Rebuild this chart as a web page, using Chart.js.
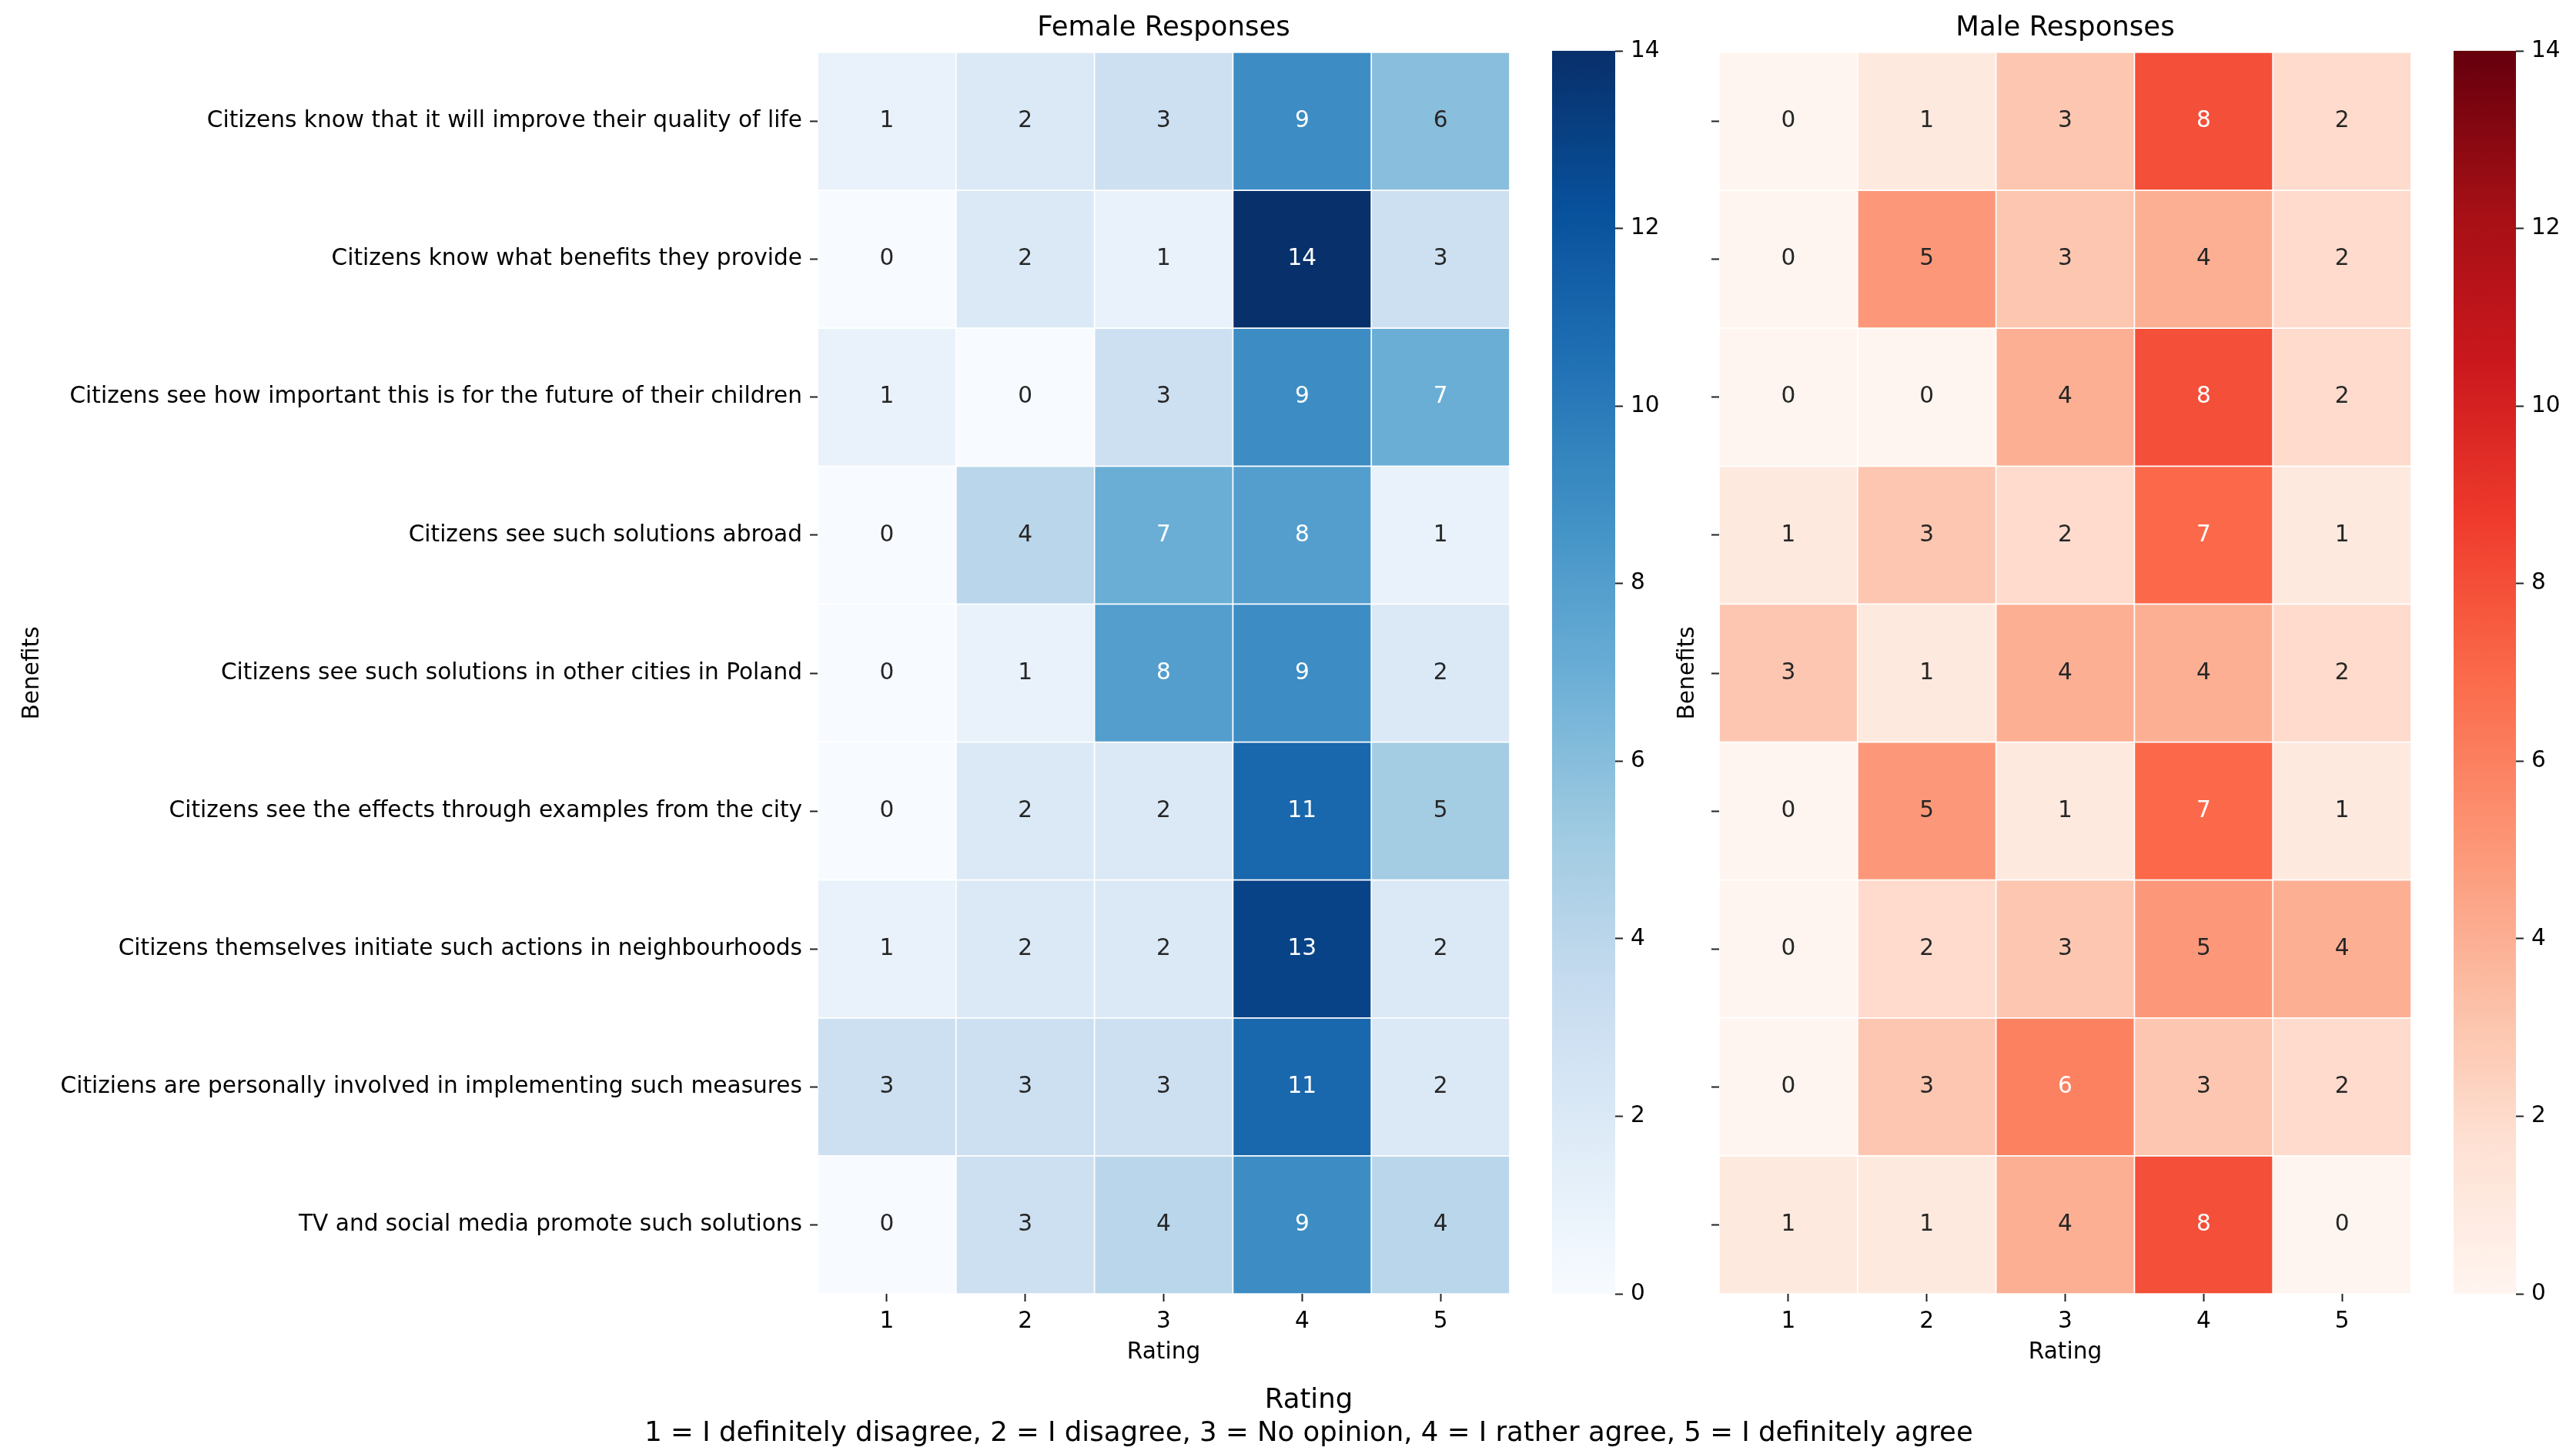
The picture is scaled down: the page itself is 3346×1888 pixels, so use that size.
<!DOCTYPE html>
<html>
<head>
<meta charset="utf-8">
<script src="https://cdn.jsdelivr.net/npm/chart.js@4.4.1/dist/chart.umd.min.js"></script>
<style>
html,body{margin:0;padding:0;background:#fff;width:3346px;height:1888px;overflow:hidden;}
canvas{position:absolute;top:0;}
.foot{position:absolute;left:700px;width:2000px;top:1794px;text-align:center;font-family:'DejaVu Sans';font-size:35.5px;line-height:43px;color:#000;white-space:nowrap;}
</style>
</head>
<body>
<canvas id="female" width="1981" height="1800" style="left:0px;width:1981px;height:1800px"></canvas>
<canvas id="femaleCb" width="162" height="1888" style="left:2016px;width:162px;height:1888px"></canvas>
<canvas id="male" width="1012" height="1800" style="left:2140px;width:1012px;height:1800px"></canvas>
<canvas id="maleCb" width="159" height="1888" style="left:3187px;width:159px;height:1888px"></canvas>
<div class="foot">Rating<br>1 = I definitely disagree, 2 = I disagree, 3 = No opinion, 4 = I rather agree, 5 = I definitely agree</div>
<script>
// ---------- data ----------
const benefits = [
  'Citizens know that it will improve their quality of life',
  'Citizens know what benefits they provide',
  'Citizens see how important this is for the future of their children',
  'Citizens see such solutions abroad',
  'Citizens see such solutions in other cities in Poland',
  'Citizens see the effects through examples from the city',
  'Citizens themselves initiate such actions in neighbourhoods',
  'Citiziens are personally involved in implementing such measures',
  'TV and social media promote such solutions'
];
const ratings = ['1', '2', '3', '4', '5'];
const femaleCounts = [
  [1, 2, 3, 9, 6],
  [0, 2, 1, 14, 3],
  [1, 0, 3, 9, 7],
  [0, 4, 7, 8, 1],
  [0, 1, 8, 9, 2],
  [0, 2, 2, 11, 5],
  [1, 2, 2, 13, 2],
  [3, 3, 3, 11, 2],
  [0, 3, 4, 9, 4]
];
const maleCounts = [
  [0, 1, 3, 8, 2],
  [0, 5, 3, 4, 2],
  [0, 0, 4, 8, 2],
  [1, 3, 2, 7, 1],
  [3, 1, 4, 4, 2],
  [0, 5, 1, 7, 1],
  [0, 2, 3, 5, 4],
  [0, 3, 6, 3, 2],
  [1, 1, 4, 8, 0]
];
const colorbarTicks = [0, 2, 4, 6, 8, 10, 12, 14];
const vmin = 0, vmax = 14;

// ---------- colour maps (matplotlib Blues / Reds) ----------
const BLUES = ['#f7fbff','#deebf7','#c6dbef','#9ecae1','#6baed6','#4292c6','#2171b5','#08519c','#08306b'];
const REDS  = ['#fff5f0','#fee0d2','#fcbba1','#fc9272','#fb6a4a','#ef3b2c','#cb181d','#a50f15','#67000d'];
function hex2rgb(h){ return [1,3,5].map(i => parseInt(h.substr(i,2),16)/255); }
function cmap(anchors, t){
  t = Math.min(1, Math.max(0, t));
  const idx = Math.min(255, Math.floor(t*256));
  const x = idx/255*(anchors.length-1);
  const i = Math.min(anchors.length-2, Math.floor(x));
  const f = x - i;
  const a = hex2rgb(anchors[i]), b = hex2rgb(anchors[i+1]);
  return a.map((v,k) => v + (b[k]-v)*f);
}
function css(rgb){ return 'rgb(' + rgb.map(v => Math.round(v*255)).join(',') + ')'; }
function lum(rgb){
  const l = rgb.map(v => v <= 0.03928 ? v/12.92 : Math.pow((v+0.055)/1.055, 2.4));
  return 0.2126*l[0] + 0.7152*l[1] + 0.0722*l[2];
}

const FONT = {family: "'DejaVu Sans'", size: 29.6, weight: 'normal', lineHeight: 1.2};
const TITLE_FONT = {family: "'DejaVu Sans'", size: 35.5, weight: 'normal', lineHeight: 1.2};
const tickGrid = {display: true, drawOnChartArea: false, drawTicks: true, tickLength: 10, tickWidth: 2, tickColor: '#222', offset: false};

function cellLabels(counts, anchors){
  return {
    id: 'cellLabels',
    afterDatasetsDraw(chart){
      const ctx = chart.ctx;
      ctx.save();
      ctx.font = "29.6px 'DejaVu Sans'";
      ctx.textAlign = 'center';
      ctx.textBaseline = 'middle';
      chart.data.datasets.forEach((ds, c) => {
        chart.getDatasetMeta(c).data.forEach((bar, r) => {
          const v = counts[r][c];
          const rgb = cmap(anchors, (v - vmin)/(vmax - vmin));
          ctx.fillStyle = lum(rgb) > 0.408 ? 'rgb(38,38,38)' : '#ffffff';
          ctx.fillText(String(v), (bar.x + bar.base)/2, bar.y);
        });
      });
      ctx.restore();
    }
  };
}

function heatmap(id, title, counts, anchors, showLabels, yWidth, yTitlePad){
  const datasets = ratings.map((r, c) => ({
    label: r,
    data: counts.map(() => [c, c + 1]),
    backgroundColor: counts.map(row => css(cmap(anchors, (row[c]-vmin)/(vmax-vmin)))),
    borderColor: '#ffffff',
    borderWidth: 1.2,
    borderSkipped: false,
    grouped: false,
    barPercentage: 1,
    categoryPercentage: 1
  }));
  return new Chart(document.getElementById(id), {
    type: 'bar',
    data: {labels: benefits, datasets},
    plugins: [cellLabels(counts, anchors)],
    options: {
      indexAxis: 'y',
      responsive: false,
      animation: false,
      devicePixelRatio: 1,
      layout: {padding: {left: 0, right: 20, top: 0, bottom: 0}},
      plugins: {
        legend: {display: false},
        tooltip: {enabled: false},
        title: {display: true, text: title, fullSize: false, font: TITLE_FONT, color: '#000', padding: {top: 15.2, bottom: 10.2}}
      },
      scales: {
        x: {
          type: 'linear', min: 0, max: ratings.length,
          afterBuildTicks: s => { s.ticks = ratings.map((r, i) => ({value: i + 0.5})); },
          ticks: {callback: (v, i) => ratings[i], font: FONT, color: '#000', padding: 9, maxRotation: 0, autoSkip: false},
          grid: tickGrid,
          border: {display: false},
          title: {display: true, text: 'Rating', font: FONT, color: '#000', padding: {top: 0, bottom: 26}},
          afterFit: s => { s.height = 120; }
        },
        y: {
          type: 'category',
          offset: true,
          ticks: {display: showLabels, font: FONT, color: '#000', padding: 10, autoSkip: false},
          grid: tickGrid,
          border: {display: false},
          title: {display: true, text: 'Benefits', font: FONT, color: '#000', padding: {top: yTitlePad, bottom: 0}},
          afterFit: s => { s.width = yWidth; }
        }
      }
    }
  });
}

function colorbar(id, anchors, yWidth){
  return new Chart(document.getElementById(id), {
    type: 'bar',
    data: {labels: ['cb'], datasets: [{
      data: [[vmin, vmax]],
      backgroundColor: (context) => {
        const ch = context.chart, a = ch.chartArea;
        if (!a) return anchors[0];
        const g = ch.ctx.createLinearGradient(0, a.bottom, 0, a.top);
        for (let k = 0; k <= 64; k++) g.addColorStop(k/64, css(cmap(anchors, k/64)));
        return g;
      },
      borderWidth: 0,
      barPercentage: 1,
      categoryPercentage: 1
    }]},
    options: {
      responsive: false,
      animation: false,
      devicePixelRatio: 1,
      layout: {padding: {left: 0, right: 0, top: 66, bottom: 208}},
      plugins: {legend: {display: false}, tooltip: {enabled: false}},
      scales: {
        x: {display: false},
        y: {
          position: 'right', min: vmin, max: vmax,
          afterBuildTicks: s => { s.ticks = colorbarTicks.map(v => ({value: v})); },
          ticks: {font: FONT, color: '#000', padding: 10},
          grid: tickGrid,
          border: {display: false},
          afterFit: s => { s.width = yWidth; }
        }
      }
    }
  });
}

heatmap('female', 'Female Responses', femaleCounts, BLUES, true, 1062, 24.5);
colorbar('femaleCb', BLUES, 80);
heatmap('male', 'Male Responses', maleCounts, REDS, false, 93, 34.5);
colorbar('maleCb', REDS, 78);
</script>
</body>
</html>
